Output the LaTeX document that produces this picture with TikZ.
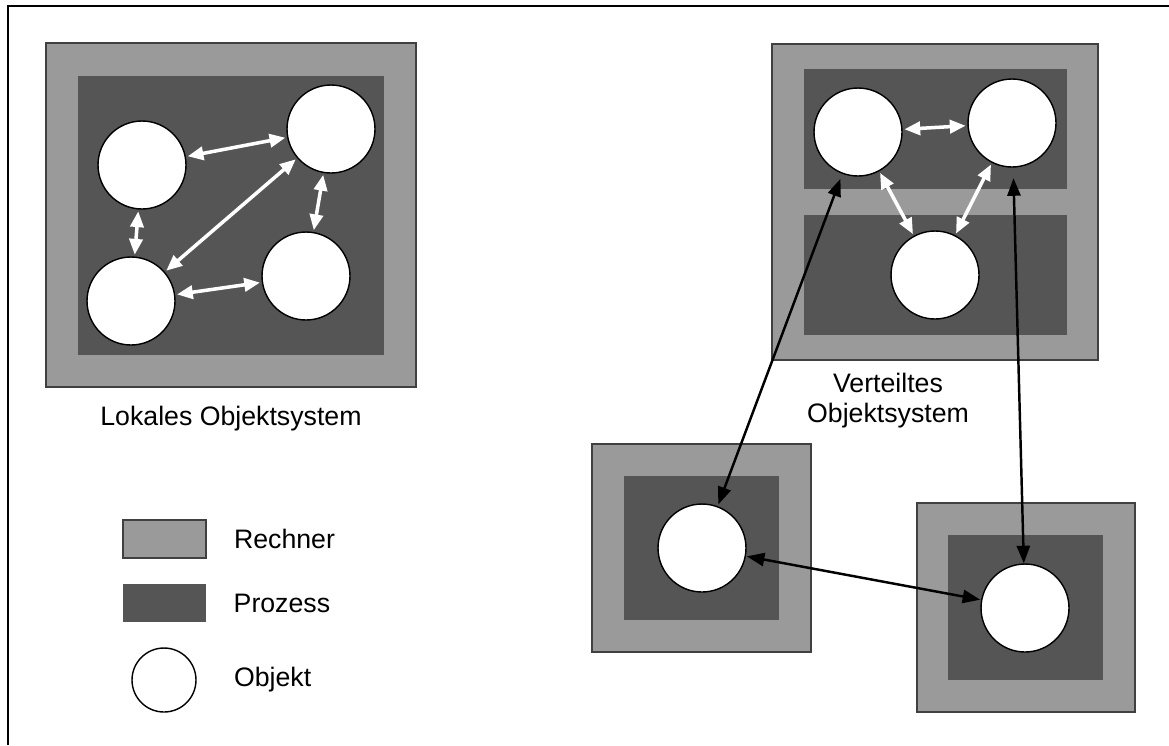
\documentclass[tikz,border=0pt]{standalone}
\usepackage{fontspec}
\setmainfont{Liberation Sans}
\usepackage{xcolor}
\usepackage{tikz}
\usetikzlibrary{arrows.meta, positioning}

\definecolor{rechgrau}{HTML}{9A9A9A}
\definecolor{prozgrau}{HTML}{555555}

\begin{document}
\begin{tikzpicture}[x=0.02cm, y=-0.02cm,
            rech/.style={rectangle, draw=black!75, line width=0.8pt,
                    fill=rechgrau, inner sep=0pt},
            proz/.style={rectangle, fill=prozgrau, inner sep=0pt},
            obj/.style={circle, draw, line width=0.8pt, fill=white,
                    minimum size=1.76cm, inner sep=0pt},
            lbl/.style={inner sep=0pt, font=\fontsize{15.2}{17.2}\selectfont},
            wpfeil/.style={draw=white, line width=2pt,
                    {Triangle[length=9pt,width=7.5pt]}-{Triangle[length=9pt,width=7.5pt]},
                    shorten <=1pt, shorten >=1pt},
            spfeil/.style={draw=black, line width=1.4pt,
                    {Triangle[length=10pt,width=7.5pt]}-{Triangle[length=10pt,width=7.5pt]}}
            ]
            \useasboundingbox (0,0) rectangle (1169,745);

            %% ---- Rahmen ----
            \draw[line width=1.1pt] (8,745) -- (8,6) -- (1169,6);

            %% ---- Lokales Objektsystem ----
            \node[rech, minimum width=7.4cm, minimum height=6.88cm] (lrech) at (231,215) {};
            \node[proz, minimum width=6.12cm, minimum height=5.58cm] (lproz) at (231,215.5) {};
            \node[obj] (la) at (142,165) {};
            \node[obj] (lb) at (331,129) {};
            \node[obj] (lc) at (131,301) {};
            \node[obj] (ld) at (306,276) {};
            \node[lbl, below=0.37cm of lrech] (ltxt) {Lokales Objektsystem};

            % Aufrufe im Prozess
            \draw[wpfeil] (la) -- (lb);
            \draw[wpfeil] (la) -- (lc);
            \draw[wpfeil] (lb) -- (lc);
            \draw[wpfeil] (lb) -- (ld);
            \draw[wpfeil] (lc) -- (ld);

            %% ---- Verteiltes Objektsystem ----
            \node[rech, minimum width=6.52cm, minimum height=6.32cm] (vrech) at (935,202) {};
            \node[proz, minimum width=5.26cm, minimum height=2.4cm] (vproz1) at (935.5,129) {};
            \node[proz, minimum width=5.26cm, minimum height=2.4cm] (vproz2) at (935.5,275) {};
            \node[obj] (va) at (858,132) {};
            \node[obj] (vb) at (1012,123) {};
            \node[obj] (vc) at (935,275) {};
            \node[lbl, align=center, anchor=north] (vtxt) at (888,373) {Verteiltes\\Objektsystem};

            % Rechner 1 (unten links)
            \node[rech, minimum width=4.38cm, minimum height=4.16cm] (r1rech) at (701.5,548) {};
            \node[proz, minimum width=3.1cm, minimum height=2.88cm] (r1proz) at (701.5,548) {};
            \node[obj] (r1obj) at (702,548) {};

            % Rechner 2 (unten rechts)
            \node[rech, minimum width=4.36cm, minimum height=4.18cm] (r2rech) at (1026,607.5) {};
            \node[proz, minimum width=3.1cm, minimum height=2.9cm] (r2proz) at (1025.5,607.5) {};
            \node[obj] (r2obj) at (1025,608) {};

            % Aufrufe zwischen Prozessen
            \draw[wpfeil] (va) -- (vb);
            \draw[wpfeil] (va) -- (vc);
            \draw[wpfeil] (vb) -- (vc);

            % Aufrufe zwischen Rechnern
            \draw[spfeil, shorten <=3pt, shorten >=1pt] (va) -- (r1obj);
            \draw[spfeil, shorten <=6pt] (vb) -- (r2obj);
            \draw[spfeil, shorten <=0.5pt, shorten >=0.5pt] (r1obj) -- (r2obj);

            %% ---- Legende ----
            \node[rech, minimum width=1.66cm, minimum height=0.76cm] (lgrech) at (164.5,539) {};
            \node[proz, minimum width=1.66cm, minimum height=0.76cm] (lgproz) at (164.5,603) {};
            \node[obj, minimum size=1.28cm] (lgobj) at (164,680) {};
            \node[lbl, right=0.54cm of lgrech] (lgrechtxt) {Rechner};
            \node[lbl, right=0.54cm of lgproz] (lgproztxt) {Prozess};
            \node[lbl, right=0.74cm of lgobj] (lgobjtxt) {Objekt};
        \end{tikzpicture}
\end{document}
